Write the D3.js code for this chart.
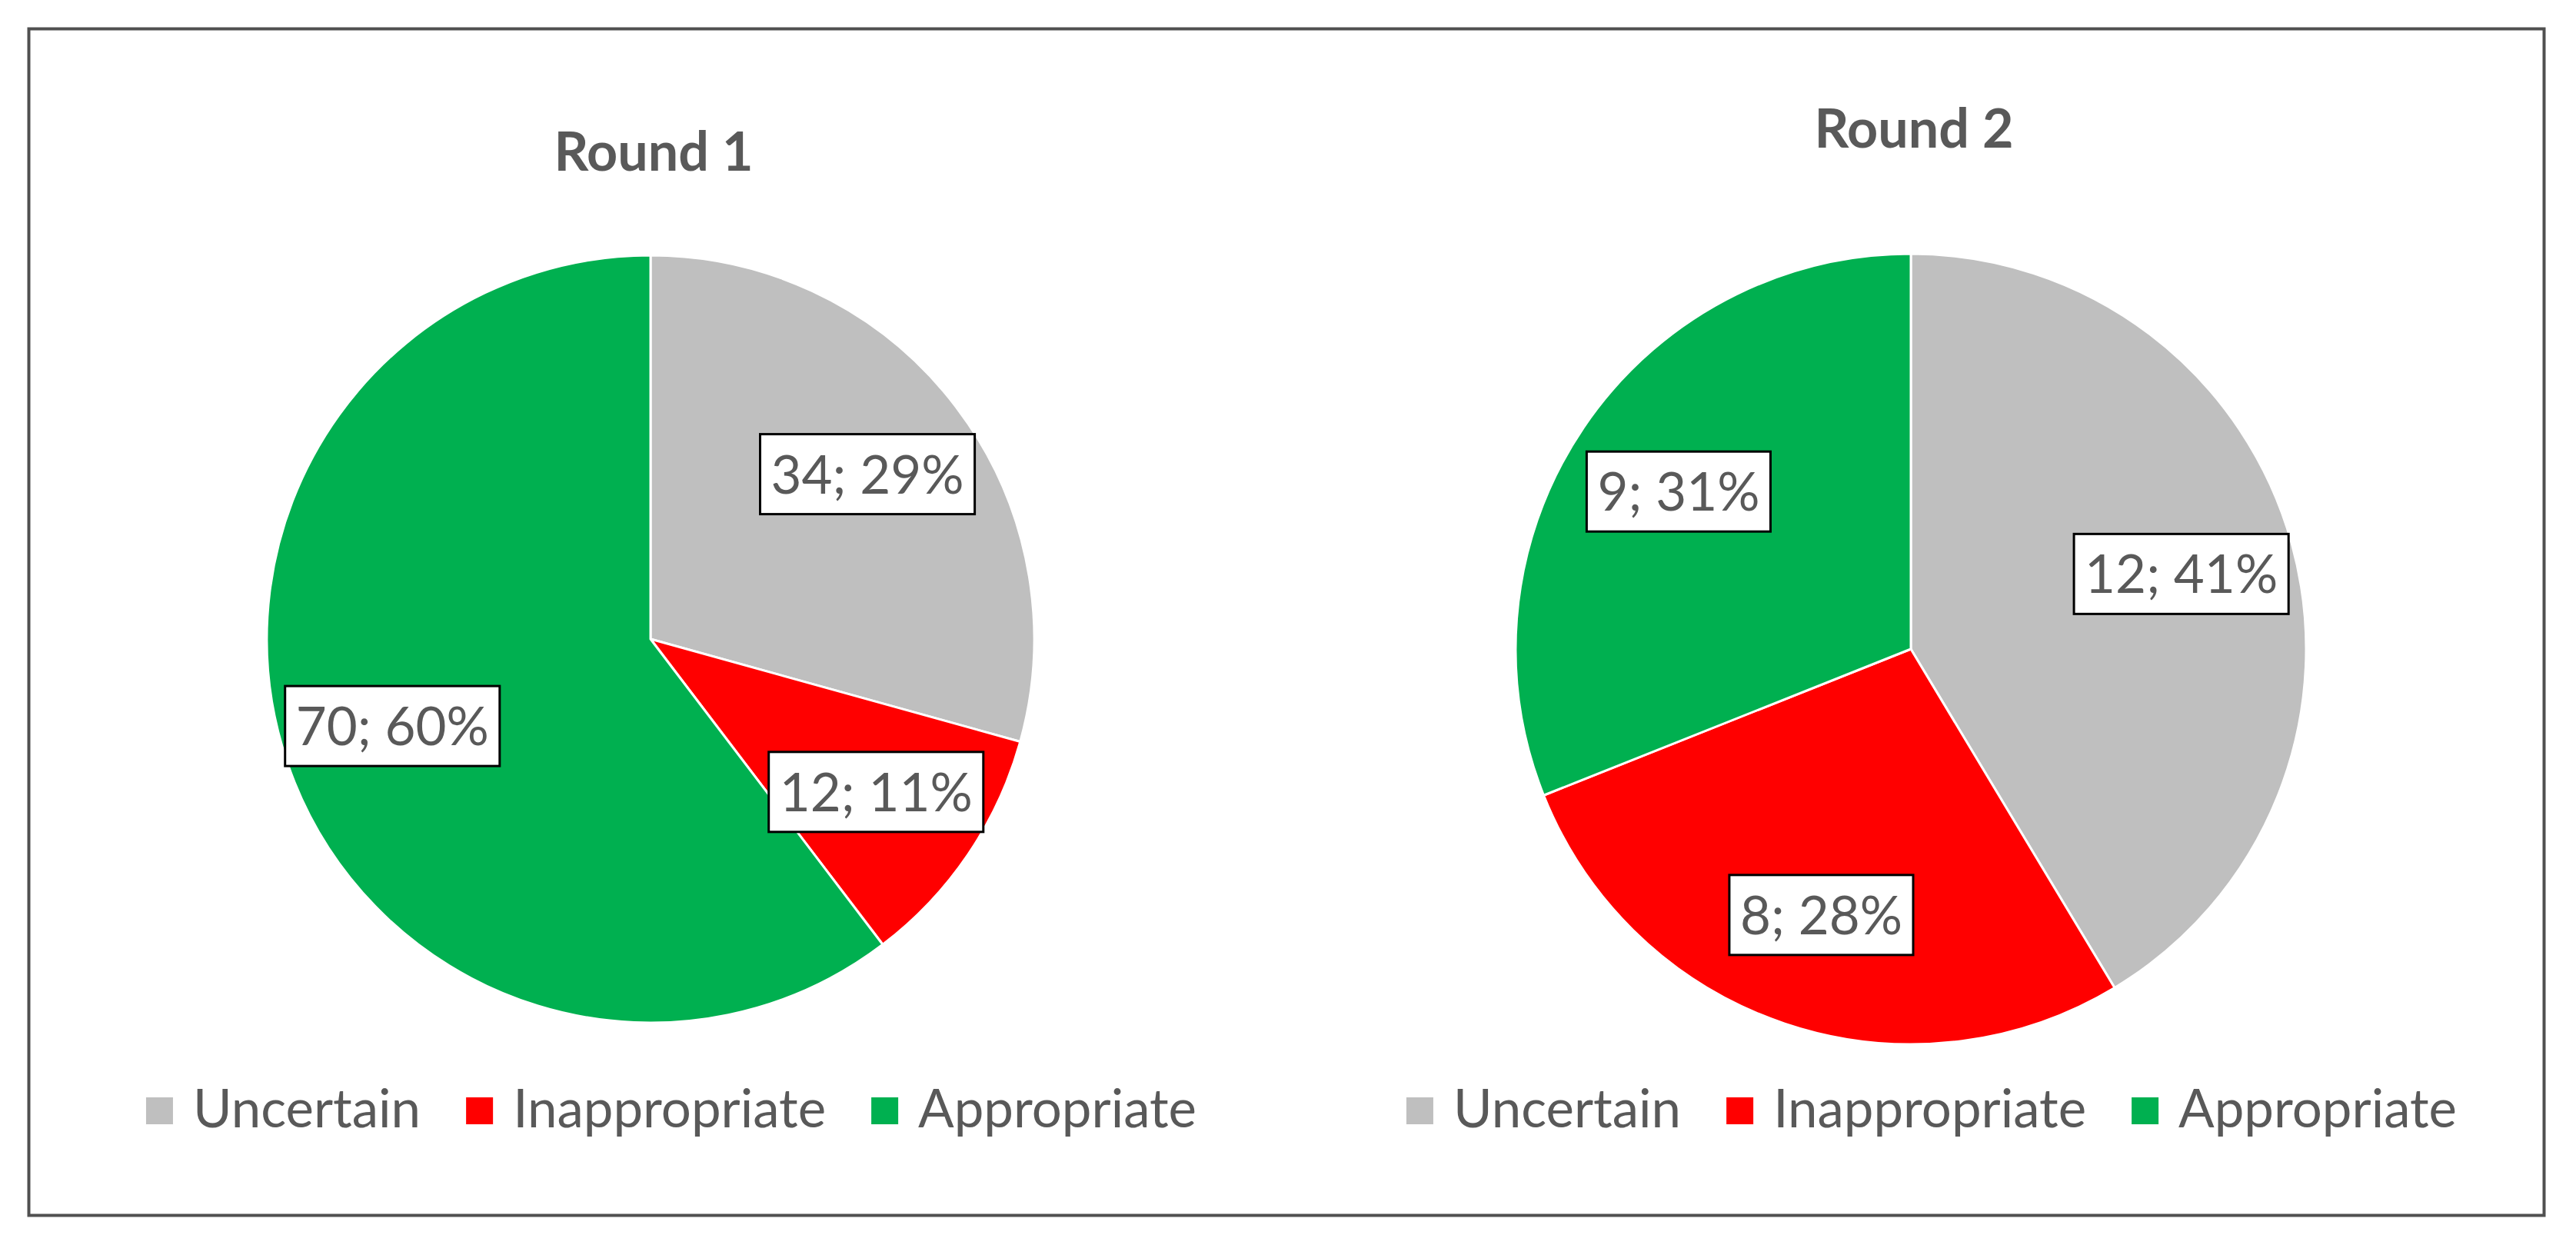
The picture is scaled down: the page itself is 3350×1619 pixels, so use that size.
<!DOCTYPE html>
<html lang="en">
<head>
    <meta charset="UTF-8">
    <title>Round 1 / Round 2</title>
    <script src="https://d3js.org/d3.v7.min.js"></script>
    <style>
        html, body { margin: 0; padding: 0; background: #ffffff; }
        text { font-family: Lato, "Open Sans", sans-serif; fill: #595959; }
    </style>
</head>
<body>
    <div id="chart"></div>
    <script>
        // values
        const categories = ["Uncertain", "Inappropriate", "Appropriate"];
        const colors = ["#bfbfbf", "#ff0000", "#00b050"];
        const titles = ["Round 1", "Round 2"];
        const round1Counts = [34, 12, 70];
        const round1Pct = ["29%", "11%", "60%"];
        const round2Counts = [12, 8, 9];
        const round2Pct = ["41%", "28%", "31%"];

        const width = 3350, height = 1619;

        const svg = d3.select("#chart").append("svg")
            .attr("width", width)
            .attr("height", height);

        // outer frame
        svg.append("rect")
            .attr("x", 37.5)
            .attr("y", 37.5)
            .attr("width", 3271)
            .attr("height", 1543)
            .attr("fill", "none")
            .attr("stroke", "#505050")
            .attr("stroke-width", 4);

        const charts = [
            {title: titles[0], counts: round1Counts, pct: round1Pct, cx: 846, cy: 831, r: 499, titleY: 222, legendX: 873},
            {title: titles[1], counts: round2Counts, pct: round2Pct, cx: 2485, cy: 844, r: 514, titleY: 192, legendX: 2512}
        ];

        const pie = d3.pie().sort(null).value(d => d);
        const color = d3.scaleOrdinal().domain(categories).range(colors);

        charts.forEach(c => {
            const data = c.counts.map((v, i) => ({category: categories[i], value: v, pct: c.pct[i]}));
            const arcs = pie.value(d => d.value)(data);

            svg.append("text")
                .attr("x", c.cx + 4)
                .attr("y", c.titleY)
                .attr("text-anchor", "middle")
                .style("font-size", "70px")
                .style("font-weight", "bold")
                .text(c.title);

            const g = svg.append("g")
                .attr("transform", `translate(${c.cx},${c.cy})`);

            const arc = d3.arc().innerRadius(0).outerRadius(c.r);
            const labelArc = d3.arc().innerRadius(c.r * 0.71).outerRadius(c.r * 0.71);

            g.selectAll(".slice")
                .data(arcs)
                .enter().append("path")
                .attr("class", "slice")
                .attr("d", arc)
                .attr("fill", d => color(d.data.category))
                .attr("stroke", "#ffffff")
                .attr("stroke-width", 3)
                .attr("stroke-linejoin", "round");

            const labels = g.selectAll(".label")
                .data(arcs)
                .enter().append("g")
                .attr("class", "label")
                .attr("transform", d => `translate(${labelArc.centroid(d)})`);

            labels.append("rect");
            labels.append("text")
                .attr("text-anchor", "middle")
                .attr("y", 25)
                .style("font-size", "69px")
                .text(d => `${d.data.value}; ${d.data.pct}`);

            labels.each(function() {
                const w = d3.select(this).select("text").node().getComputedTextLength() + 28;
                d3.select(this).select("rect")
                    .attr("x", -w / 2)
                    .attr("y", -52)
                    .attr("width", w)
                    .attr("height", 104)
                    .attr("fill", "#ffffff")
                    .attr("stroke", "#000000")
                    .attr("stroke-width", 3);
            });

            // legend, centred under the pie
            const legend = svg.append("g");
            const items = legend.selectAll(".item")
                .data(categories)
                .enter().append("g")
                .attr("class", "item");

            items.append("rect")
                .attr("x", 0)
                .attr("y", 1427)
                .attr("width", 35)
                .attr("height", 35)
                .attr("fill", d => color(d));

            items.append("text")
                .attr("x", 61)
                .attr("y", 1466)
                .style("font-size", "69px")
                .text(d => d);

            let x = 0;
            const offsets = [];
            items.each(function() {
                offsets.push(x);
                x += 61 + d3.select(this).select("text").node().getComputedTextLength() + 59;
            });
            const total = x - 59;
            const start = c.legendX - total / 2;
            items.attr("transform", (d, i) => `translate(${start + offsets[i]},0)`);
        });
    </script>
</body>
</html>
